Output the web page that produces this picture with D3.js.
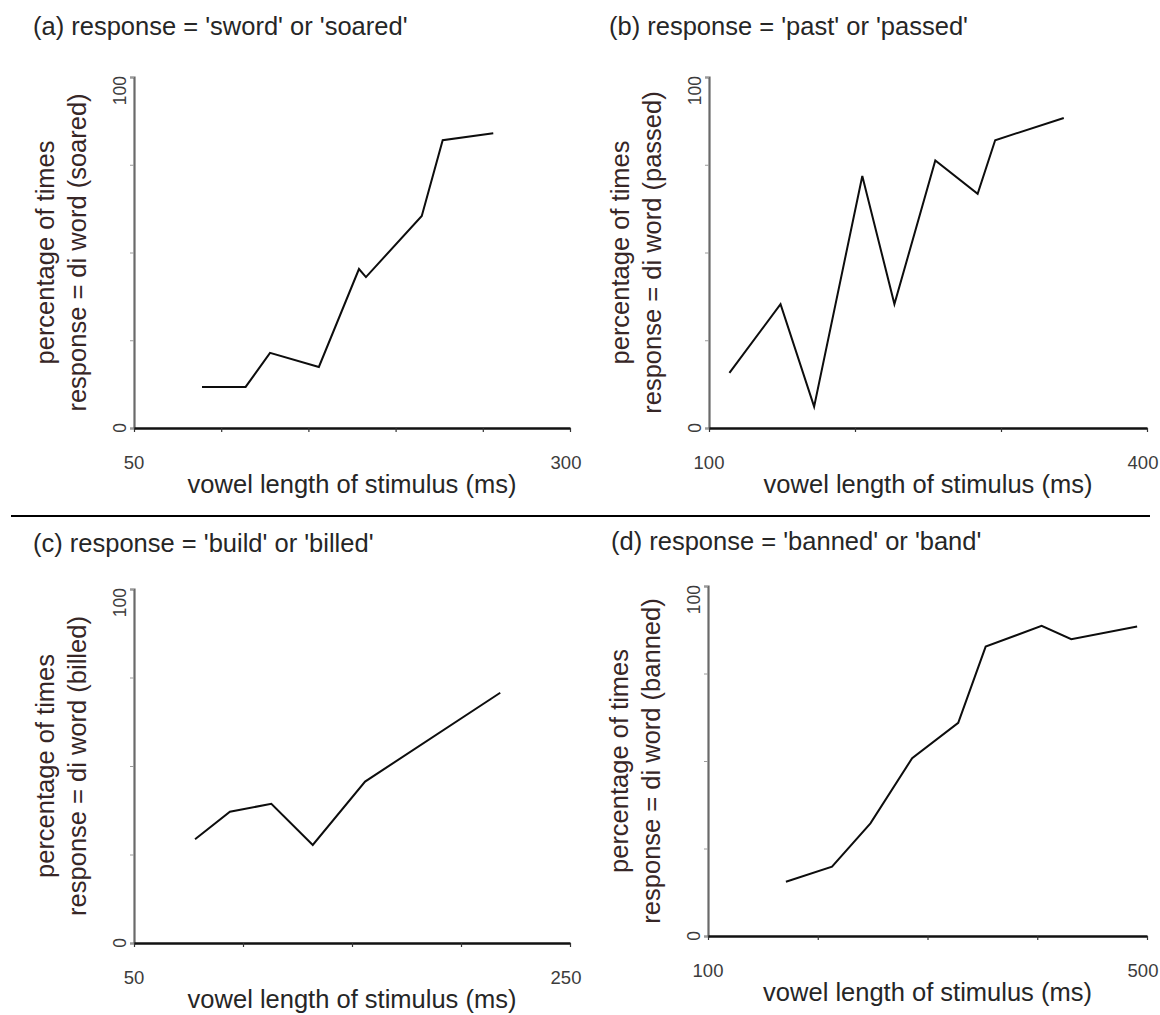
<!DOCTYPE html>
<html><head><meta charset="utf-8">
<script src="https://cdn.jsdelivr.net/npm/d3@7"></script>
<style>body{margin:0;background:#fff}svg{display:block}text{font-family:"Liberation Sans",Arial,sans-serif}</style>
</head><body>
<script>
// ---- data ----
const titles = ["(a) response = 'sword' or 'soared'", "(b) response = 'past' or 'passed'",
                "(c) response = 'build' or 'billed'", "(d) response = 'banned' or 'band'"];
const yLabelWords = ["soared", "passed", "billed", "banned"];
const xLabel = "vowel length of stimulus (ms)";
const aX = [89, 114, 128, 156, 179, 183, 215, 227, 256];
const aY = [11.7, 11.7, 21.4, 17.4, 45.3, 43, 60.4, 82, 84];
const bX = [114, 149, 172, 205, 227, 255, 284, 296, 343];
const bY = [15.7, 35.3, 6.1, 71.8, 35.3, 76.2, 66.7, 82, 88.3];
const cX = [78, 94, 113, 132, 156, 218];
const cY = [29.3, 37.1, 39.3, 27.7, 45.6, 70.7];
const dX = [171, 213, 248, 286, 328, 353, 404, 431, 491];
const dY = [15.5, 19.8, 32.2, 50.8, 60.9, 82.7, 88.6, 84.8, 88.4];
const xDomains = [[50, 300], [100, 400], [50, 250], [100, 500]];
const xTicks = [[50, 100, 150, 200, 250, 300], [100, 200, 300, 400], [50, 100, 150, 200, 250], [100, 200, 300, 400, 500]];
const yTicks = [0, 25, 50, 75, 100];

const series = [[aX, aY], [bX, bY], [cX, cY], [dX, dY]];
// layout boxes (pixels)
const boxes = [
  {l: 134, r: 570, t: 77, b: 428, tx: 33, ty: 35},
  {l: 709, r: 1147, t: 77, b: 428, tx: 609, ty: 35},
  {l: 134, r: 570, t: 589, b: 943, tx: 33, ty: 552},
  {l: 708, r: 1147, t: 586, b: 936, tx: 611, ty: 550}
];

const svg = d3.select("body").append("svg").attr("width", 1160).attr("height", 1015);
const TXT = "#262626";

// separator
svg.append("line").attr("x1", 11).attr("x2", 1150).attr("y1", 516).attr("y2", 516)
  .attr("stroke", "#000").attr("stroke-width", 2.2);

series.forEach((s, i) => {
  const bx = boxes[i];
  const x = d3.scaleLinear().domain(xDomains[i]).range([bx.l, bx.r]);
  const y = d3.scaleLinear().domain([0, 100]).range([bx.b, bx.t]);
  const g = svg.append("g");

  // title
  g.append("text").attr("x", bx.tx).attr("y", bx.ty).attr("font-size", 25.5).attr("fill", TXT).text(titles[i]);

  // y axis
  const ya = g.append("g").attr("transform", `translate(${bx.l},0)`)
    .call(d3.axisLeft(y).tickValues(yTicks).tickSize(4).tickFormat(""));
  ya.select(".domain").attr("stroke", "#6a6a6a").attr("stroke-width", 2.2);
  ya.selectAll(".tick line").attr("stroke", "#9a9a9a").attr("stroke-width", 1);

  // x axis
  const xa = g.append("g").attr("transform", `translate(0,${bx.b})`)
    .call(d3.axisBottom(x).tickValues(xTicks[i]).tickSize(4).tickSizeOuter(0).tickFormat(""));
  xa.select(".domain").attr("stroke", "#111").attr("stroke-width", 2.6);
  xa.selectAll(".tick line").attr("stroke", "#333").attr("stroke-width", 1.2);

  // y tick labels (rotated)
  const yl = bx.l - 8;
  g.append("text").attr("transform", `translate(${yl},${y(0)}) rotate(-90)`).attr("text-anchor", "middle")
    .attr("font-size", 17.5).attr("fill", "#3c3c3c").text("0");
  g.append("text").attr("transform", `translate(${yl},${y(100) - 1}) rotate(-90)`).attr("text-anchor", "end")
    .attr("font-size", 17.5).attr("fill", "#3c3c3c").text("100");

  // x tick labels (endpoints)
  const xd = xDomains[i];
  g.append("text").attr("x", x(xd[0])).attr("y", bx.b + 41).attr("text-anchor", "middle")
    .attr("font-size", 18.5).attr("fill", "#3c3c3c").text(xd[0]);
  g.append("text").attr("x", x(xd[1]) - 4).attr("y", bx.b + 41).attr("text-anchor", "middle")
    .attr("font-size", 18.5).attr("fill", "#3c3c3c").text(xd[1]);

  // x label
  g.append("text").attr("x", (bx.l + bx.r) / 2).attr("y", bx.b + 65).attr("text-anchor", "middle")
    .attr("font-size", 25.5).attr("fill", TXT).text(xLabel);

  // y labels
  const cy = (bx.t + bx.b) / 2;
  g.append("text").attr("transform", `translate(${bx.l - 80},${cy}) rotate(-90)`).attr("text-anchor", "middle")
    .attr("font-size", 25.5).attr("fill", "#362626").text("percentage of times");
  g.append("text").attr("transform", `translate(${bx.l - 48},${cy}) rotate(-90)`).attr("text-anchor", "middle")
    .attr("font-size", 25.5).attr("fill", "#362626").text(`response = di word (${yLabelWords[i]})`);

  // data line
  const pts = s[0].map((v, k) => [v, s[1][k]]);
  g.append("path").datum(pts)
    .attr("d", d3.line().x(d => x(d[0])).y(d => y(d[1])))
    .attr("fill", "none").attr("stroke", "#0d0d0d").attr("stroke-width", 2).attr("stroke-linejoin", "miter");
});
</script>
</body></html>
